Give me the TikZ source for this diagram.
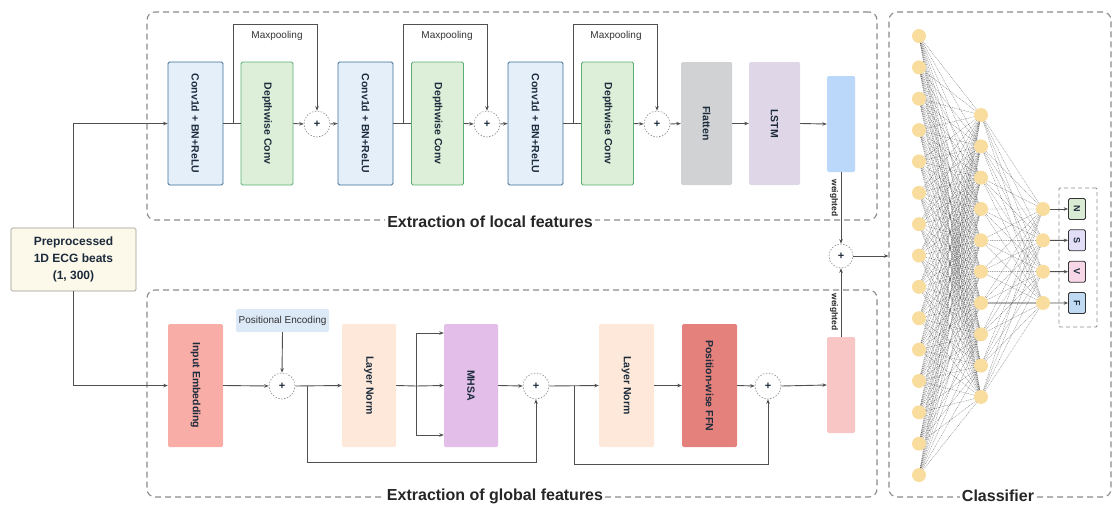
\documentclass[tikz,border=0pt]{standalone}
\usepackage{fontspec}
\setmainfont{Liberation Sans}
\usetikzlibrary{arrows.meta,calc}
\definecolor{txt}{HTML}{1C2B3C}
\definecolor{linec}{HTML}{505050}
\definecolor{dashc}{HTML}{8A8A8A}
\definecolor{convfill}{HTML}{E4EFFA}
\definecolor{convdraw}{HTML}{3E6F96}
\definecolor{dwfill}{HTML}{DDEFD8}
\definecolor{dwdraw}{HTML}{5BAF73}
\definecolor{flfill}{HTML}{D1D2D4}
\definecolor{lsfill}{HTML}{DFD7E7}
\definecolor{barone}{HTML}{BBD8FA}
\definecolor{iefill}{HTML}{F8ADA6}
\definecolor{pefill}{HTML}{DCE9F6}
\definecolor{lnfill}{HTML}{FDE8DA}
\definecolor{mhfill}{HTML}{E2BEE8}
\definecolor{fffill}{HTML}{E5817C}
\definecolor{bartwo}{HTML}{F8C7C5}
\definecolor{prefill}{HTML}{FDF9EA}
\definecolor{predraw}{HTML}{9A9A8A}
\definecolor{neur}{HTML}{F9DD9E}
\definecolor{outN}{HTML}{D9ECD3}
\definecolor{outS}{HTML}{E3DEF7}
\definecolor{outV}{HTML}{F7D6E7}
\definecolor{outF}{HTML}{C0DAF3}
\begin{document}
\begin{tikzpicture}[x=1pt,y=-1pt,
  blk/.style={rounded corners=1.5pt, inner sep=0pt, text=txt,
    font=\bfseries\fontsize{10.5}{12}\selectfont},
  tall/.style={blk, minimum width=#1, minimum height=123pt},
  ln/.style={draw=linec, line width=0.9pt},
  arr/.style={ln, -{Stealth[length=4.5pt,width=3.5pt]}},
  plusnode/.style={circle, draw=dashc, line width=0.6pt, dash pattern=on 1.5pt off 1.5pt,
    minimum size=26pt, inner sep=0pt, text=txt, font=\bfseries\fontsize{11}{11}\selectfont},
  dbox/.style={draw=dashc, line width=1.1pt, dash pattern=on 6pt off 4pt, rounded corners=8pt, inner sep=0pt},
  heading/.style={fill=white, inner sep=2pt, text=black!85, font=\bfseries\fontsize{16}{18}\selectfont},
  small/.style={text=black!80, font=\fontsize{10}{12}\selectfont},
  wlab/.style={text=black!85, font=\bfseries\fontsize{8.5}{9}\selectfont, rotate=-90, inner sep=1pt},
  neuron/.style={circle, fill=neur, minimum size=14pt, inner sep=0pt},
  nnline/.style={draw=black!75, line width=0.35pt, dash pattern=on 1pt off 0.8pt, opacity=0.7},
  outbox/.style={draw=black!80, line width=0.8pt, rounded corners=1.5pt, minimum width=17pt, minimum height=21pt,
    inner sep=0pt, text=txt, font=\bfseries\fontsize{9}{10}\selectfont}
]
\useasboundingbox (0,0) rectangle (1113,506);

% dashed containers
\node[dbox, minimum width=730pt, minimum height=208pt] (localbox) at (512,116) {};
\node[dbox, minimum width=730pt, minimum height=207pt] (globalbox) at (512,393.5) {};
\node[dbox, minimum width=222pt, minimum height=485pt] (cls) at (1000,254.5) {};
\node[heading] (loclab) at (490,222) {Extraction of local features};
\node[heading] (glolab) at (495,496) {Extraction of global features};
\node[heading] (clslab) at (998,496) {Classifier};

% input
\node[blk, draw=predraw, fill=prefill, line width=0.7pt, minimum width=125pt, minimum height=63pt,
  align=center, font=\bfseries\fontsize{12}{17}\selectfont] (pre) at (73.5,259.5)
  {Preprocessed\\1D ECG beats\\(1, 300)};

% top branch
\node[tall=55pt, draw=convdraw, fill=convfill, line width=0.8pt] (c1) at (195.5,123.5) {\rotatebox{-90}{Conv1d + BN+ReLU}};
\node[tall=52pt, draw=dwdraw, fill=dwfill, line width=0.8pt] (d1) at (267,123.5) {\rotatebox{-90}{Depthwise Conv}};
\node[plusnode] (p1) at (317,124) {+};
\node[tall=55pt, draw=convdraw, fill=convfill, line width=0.8pt] (c2) at (365.5,123.5) {\rotatebox{-90}{Conv1d + BN+ReLU}};
\node[tall=52pt, draw=dwdraw, fill=dwfill, line width=0.8pt] (d2) at (437.5,123.5) {\rotatebox{-90}{Depthwise Conv}};
\node[plusnode] (p2) at (487,124) {+};
\node[tall=55pt, draw=convdraw, fill=convfill, line width=0.8pt] (c3) at (535.5,123.5) {\rotatebox{-90}{Conv1d + BN+ReLU}};
\node[tall=52pt, draw=dwdraw, fill=dwfill, line width=0.8pt] (d3) at (607.5,123.5) {\rotatebox{-90}{Depthwise Conv}};
\node[plusnode] (p3) at (657,124) {+};
\node[tall=51pt, fill=flfill] (fl) at (706.5,123.5) {\rotatebox{-90}{Flatten}};
\node[tall=51pt, fill=lsfill] (ls) at (774.5,123.5) {\rotatebox{-90}{LSTM}};
\node[blk, fill=barone, minimum width=28pt, minimum height=96pt] (bar1) at (841,124) {};

\coordinate (m1) at (233,124); \coordinate (mt1) at (233,24);
\coordinate (m2) at (403,124); \coordinate (mt2) at (403,24);
\coordinate (m3) at (573,124); \coordinate (mt3) at (573,24);
\node[small] (mp1) at (277,36) {Maxpooling};
\node[small] (mp2) at (447,36) {Maxpooling};
\node[small] (mp3) at (616,36) {Maxpooling};

\draw[arr] (pre.north) |- (c1.west);
\draw[ln] (c1.east) -- (d1.west);
\draw[arr] (m1) -- (mt1) -| (p1.north);
\draw[arr] (d1.east) -- (p1.west);
\draw[arr] (p1.east) -- (c2.west);
\draw[ln] (c2.east) -- (d2.west);
\draw[arr] (m2) -- (mt2) -| (p2.north);
\draw[arr] (d2.east) -- (p2.west);
\draw[arr] (p2.east) -- (c3.west);
\draw[ln] (c3.east) -- (d3.west);
\draw[arr] (m3) -- (mt3) -| (p3.north);
\draw[arr] (d3.east) -- (p3.west);
\draw[arr] (p3.east) -- (fl.west);
\draw[arr] (fl.east) -- (ls.west);
\draw[arr] (ls.east) -- (bar1.west);

% bottom branch
\node[tall=55pt, fill=iefill] (ie) at (195.5,385.5) {\rotatebox{-90}{Input Embedding}};
\node[blk, fill=pefill, minimum width=93pt, minimum height=23pt, font=\fontsize{10}{12}\selectfont, text=black!80] (pe) at (282.5,320.5) {Positional Encoding};
\node[plusnode] (pp1) at (282,386) {+};
\node[tall=54pt, fill=lnfill] (lnA) at (369,385.5) {\rotatebox{-90}{Layer Norm}};
\node[tall=54pt, fill=mhfill] (mh) at (471,385.5) {\rotatebox{-90}{MHSA}};
\node[plusnode] (pp2) at (536,386) {+};
\node[tall=55pt, fill=lnfill] (lnB) at (626.5,385.5) {\rotatebox{-90}{Layer Norm}};
\node[tall=55pt, fill=fffill] (ff) at (709.5,385.5) {\rotatebox{-90}{Position-wise FFN}};
\node[plusnode] (pp3) at (768,386) {+};
\node[blk, fill=bartwo, minimum width=28pt, minimum height=96pt] (bar2) at (841,385) {};

\coordinate (sp) at (416,386);
\coordinate (spt) at (416,333);
\coordinate (spb) at (416,435);
\coordinate (r1) at (307,386); \coordinate (r1b) at (307,462);
\coordinate (r2) at (574,386); \coordinate (r2b) at (574,464);

\draw[arr] (pre.south) |- (ie.west);
\draw[arr] (ie.east) -- (pp1.west);
\draw[arr] (pe.south) -- (pp1.north);
\draw[arr] (pp1.east) -- (lnA.west);
\draw[ln] (lnA.east) -- (sp);
\draw[ln] (spt) -- (spb);
\draw[arr] (spt) -- (spt -| mh.west);
\draw[arr] (sp) -- (mh.west);
\draw[arr] (spb) -- (spb -| mh.west);
\draw[arr] (r1) -- (r1b) -| (pp2.south);
\draw[arr] (mh.east) -- (pp2.west);
\draw[arr] (pp2.east) -- (lnB.west);
\draw[arr] (lnB.east) -- (ff.west);
\draw[arr] (ff.east) -- (pp3.west);
\draw[arr] (r2) -- (r2b) -| (pp3.south);
\draw[arr] (pp3.east) -- (bar2.west);

% fusion
\node[plusnode, minimum size=24pt] (pw) at (841,256) {+};
\draw[arr] (bar1.south) -- (pw.north);
\draw[arr] (bar2.north) -- (pw.south);
\node[wlab] (w1) at (834,198) {weighted};
\node[wlab] (w2) at (834,312) {weighted};
\draw[arr] (pw.east) -- (pw -| cls.west);

% classifier network
\foreach \i in {1,...,15} {
  \coordinate (a\i) at (919,{36+31.36*(\i-1)});
}
\foreach \j in {1,...,10} {
  \coordinate (b\j) at (981,{115+31.33*(\j-1)});
}
\foreach \k in {1,...,4} {
  \coordinate (o\k) at (1043,{209+31.33*(\k-1)});
}
\foreach \i in {1,...,15} { \foreach \j in {1,...,10} {
  \draw[nnline] (a\i) -- (b\j);
}}
\foreach \j in {1,...,10} { \foreach \k in {1,...,4} {
  \draw[nnline] (b\j) -- (o\k);
}}
\draw[draw=black!75, line width=0.6pt] (b7) -- (o4);
\foreach \i in {1,...,15} { \node[neuron] (na\i) at (a\i) {}; }
\foreach \j in {1,...,10} { \node[neuron] (nb\j) at (b\j) {}; }
\foreach \k in {1,...,4} { \node[neuron] (no\k) at (o\k) {}; }

\node[dbox, line width=0.8pt, dash pattern=on 4pt off 3pt, rounded corners=1pt, minimum width=38pt, minimum height=139pt] (outgrp) at (1078,257.5) {};
\node[outbox, fill=outN] (yN) at (1077,209) {\rotatebox{-90}{N}};
\node[outbox, fill=outS] (yS) at (1077,240.3) {\rotatebox{-90}{S}};
\node[outbox, fill=outV] (yV) at (1077,271.7) {\rotatebox{-90}{V}};
\node[outbox, fill=outF] (yF) at (1077,303) {\rotatebox{-90}{F}};
\draw[arr] (no1) -- (yN);
\draw[arr] (no2) -- (yS);
\draw[arr] (no3) -- (yV);
\draw[arr] (no4) -- (yF);
\end{tikzpicture}
\end{document}
